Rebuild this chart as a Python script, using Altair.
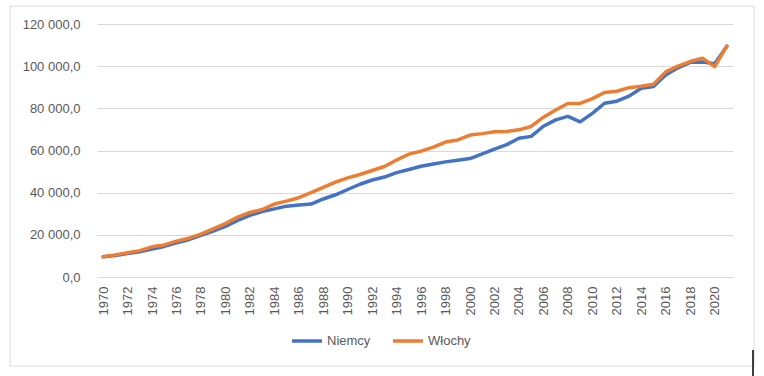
import altair as alt
import pandas as pd

years = list(range(1970, 2022))

niemcy = [
    9600, 10200, 11100, 12000, 13300, 14500, 16200, 17700, 19800, 21800,
    24000, 26800, 29200, 31000, 32300, 33600, 34100, 34600, 37000, 39000,
    41500, 44000, 46000, 47400, 49500, 51000, 52500, 53600, 54600, 55400,
    56200, 58400, 60600, 62800, 65800, 66700, 71500, 74500, 76200, 73600,
    77600, 82400, 83400, 85800, 89500, 90400, 95800, 99200, 101800, 102000,
    101200, 109500,
]

wlochy = [
    9600, 10500, 11500, 12500, 14300, 15200, 17000, 18400, 20300, 22800,
    25300, 28400, 30600, 32000, 34600, 36000, 37600, 40000, 42500, 45000,
    47000, 48600, 50500, 52400, 55500, 58300, 59700, 61600, 64000, 65000,
    67300, 68000, 68900, 69000, 69800, 71400, 75800, 79200, 82300, 82300,
    84600, 87500, 88100, 89800, 90500, 91400, 97300, 100000, 102200, 103800,
    99800, 109500,
]

series_names = ["Niemcy", "Włochy"]
series_colors = ["#4472C4", "#ED7D31"]
y_ticks = [0, 20000, 40000, 60000, 80000, 100000, 120000]
x_label_years = [y for y in years if y % 2 == 0]

df = pd.DataFrame({
    "year": years * 2,
    "value": niemcy + wlochy,
    "series": [series_names[0]] * len(years) + [series_names[1]] * len(years),
})

FONT = "Liberation Sans"
GREY = "#595959"

lines = alt.Chart(df).mark_line(strokeWidth=3.5, strokeJoin="round", strokeCap="round").encode(
    x=alt.X(
        "year:O",
        scale=alt.Scale(type="point", padding=0.5),
        axis=alt.Axis(
            values=x_label_years,
            labelAngle=-90,
            labelFont=FONT,
            labelFontSize=13,
            labelColor=GREY,
            ticks=False,
            domainColor="#d9d9d9",
            domainWidth=1,
            grid=False,
            title=None,
            labelPadding=9,
        ),
    ),
    y=alt.Y(
        "value:Q",
        scale=alt.Scale(domain=[0, 120000], nice=False),
        axis=alt.Axis(
            values=y_ticks,
            labelExpr="replace(replace(format(datum.value, ',.1f'), ',', ' '), '.', ',')",
            labelFont=FONT,
            labelFontSize=13,
            labelColor=GREY,
            ticks=False,
            domain=False,
            gridColor="#d9d9d9",
            gridWidth=1,
            title=None,
            labelPadding=17,
        ),
    ),
    color=alt.Color(
        "series:N",
        scale=alt.Scale(domain=series_names, range=series_colors),
        legend=alt.Legend(
            title=None,
            orient="none",
            direction="horizontal",
            legendX=193,
            legendY=300,
            symbolType="stroke",
            symbolSize=900,
            symbolStrokeWidth=3.5,
            labelFont=FONT,
            labelFontSize=13,
            labelColor=GREY,
            labelOffset=3,
            columnPadding=15,
        ),
    ),
    order=alt.Order("year:O"),
)

frame_df = pd.DataFrame({"k": [0]})
frame = alt.Chart(frame_df).mark_rect(fill="transparent", stroke="#d9d9d9", strokeWidth=1).encode(
    x=alt.value(-87), x2=alt.value(657), y=alt.value(-18), y2=alt.value(342)
)
tick = alt.Chart(frame_df).mark_rule(color="#000000", strokeWidth=1.5).encode(
    x=alt.value(656), y=alt.value(326), y2=alt.value(352)
)

chart = alt.layer(frame, lines, tick).properties(
    width=636,
    height=253,
    autosize=alt.AutoSizeParams(type="none"),
    padding={"left": 97, "top": 24, "right": 31, "bottom": 99},
    background="#ffffff",
).configure_view(strokeWidth=0)

chart.save("out.html", embed_options={"renderer": "svg", "actions": False})
